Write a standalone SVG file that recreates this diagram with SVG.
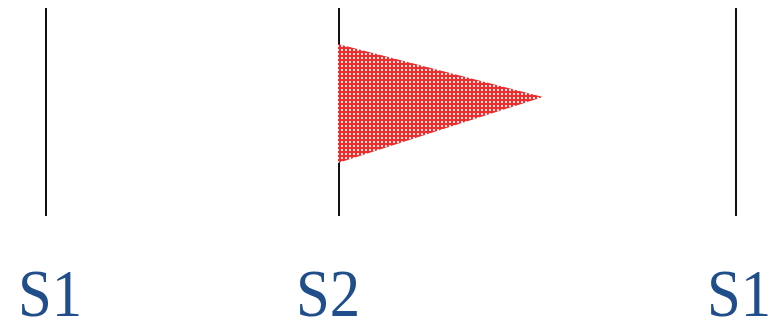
<svg xmlns="http://www.w3.org/2000/svg" width="773" height="330" viewBox="0 0 773 330">
  <defs>
    <pattern id="dots" x="0" y="0" width="4" height="4" patternUnits="userSpaceOnUse">
      <rect width="4" height="4" fill="#f02c2c"/>
      <rect x="1" y="1" width="2" height="2" fill="#ffe4e4"/>
    </pattern>
  </defs>
  <style>
    .bar { stroke: #111; stroke-width: 2; fill: none; }
    .lbl { font-family: 'Liberation Serif', serif; font-size: 64px; fill: #1f4e8a; }
  </style>
  <rect width="773" height="330" fill="#fff"/>
  <g id="bar-s1-left"><line class="bar" x1="46" y1="8" x2="46" y2="216"/></g>
  <g id="bar-s2"><line class="bar" x1="339" y1="8" x2="339" y2="216"/></g>
  <g id="bar-s1-right"><line class="bar" x1="736" y1="8" x2="736" y2="216"/></g>
  <g id="flag"><polygon points="338,44 543,97 338,163" fill="url(#dots)"/></g>
  <g id="labels">
    <text class="lbl" x="18" y="316" transform="translate(18 316) scale(0.95 1.05) translate(-18 -316)">S1</text>
    <text class="lbl" x="296" y="316" transform="translate(296 316) scale(0.95 1.05) translate(-296 -316)">S2</text>
    <text class="lbl" x="707" y="316" transform="translate(707 316) scale(0.95 1.05) translate(-707 -316)">S1</text>
  </g>
</svg>
